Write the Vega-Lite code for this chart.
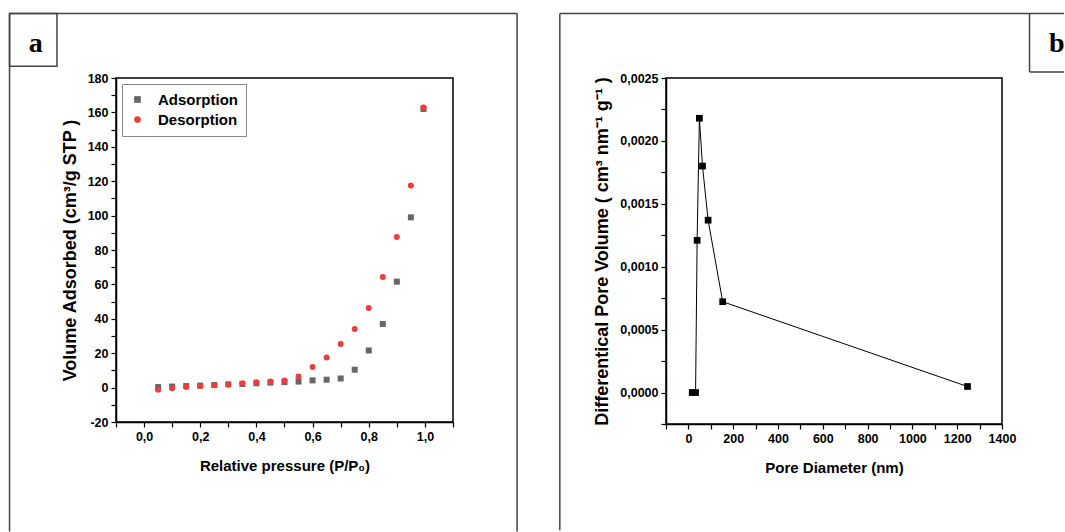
{
  "$schema": "https://vega.github.io/schema/vega-lite/v6.json",
  "padding": {"left": 8, "top": 11, "right": 0, "bottom": 0},
  "background": "white",
  "spacing": 39,
  "config": {
    "view": {"stroke": "#000", "strokeWidth": 1.5},
    "axis": {
      "grid": false, "domainColor": "#000", "domainWidth": 1.5,
      "tickColor": "#000", "tickWidth": 1.2, "tickSize": 5,
      "labelFont": "Liberation Sans", "labelFontWeight": "bold", "labelFontSize": 12.5, "labelColor": "#000",
      "labelPadding": 3, "labelOverlap": false, "labelFlush": false,
      "titleFont": "Liberation Sans", "titleFontWeight": "bold", "titleFontSize": 15, "titleColor": "#000"
    },
    "axisY": {"titleFontSize": 18, "titlePadding": 8},
    "axisX": {"titlePadding": 16}
  },
  "datasets": {
    "iso": [
      {"p": 0.05, "v": 0.3, "series": "Adsorption"},
      {"p": 0.10, "v": 0.6, "series": "Adsorption"},
      {"p": 0.15, "v": 0.9, "series": "Adsorption"},
      {"p": 0.20, "v": 1.2, "series": "Adsorption"},
      {"p": 0.25, "v": 1.5, "series": "Adsorption"},
      {"p": 0.30, "v": 1.9, "series": "Adsorption"},
      {"p": 0.35, "v": 2.1, "series": "Adsorption"},
      {"p": 0.40, "v": 2.5, "series": "Adsorption"},
      {"p": 0.45, "v": 2.9, "series": "Adsorption"},
      {"p": 0.50, "v": 3.2, "series": "Adsorption"},
      {"p": 0.55, "v": 3.5, "series": "Adsorption"},
      {"p": 0.60, "v": 4.2, "series": "Adsorption"},
      {"p": 0.65, "v": 4.6, "series": "Adsorption"},
      {"p": 0.70, "v": 5.3, "series": "Adsorption"},
      {"p": 0.75, "v": 10.4, "series": "Adsorption"},
      {"p": 0.80, "v": 21.6, "series": "Adsorption"},
      {"p": 0.85, "v": 37.0, "series": "Adsorption"},
      {"p": 0.90, "v": 61.6, "series": "Adsorption"},
      {"p": 0.95, "v": 99.0, "series": "Adsorption"},
      {"p": 0.995, "v": 162.0, "series": "Adsorption"},
      {"p": 0.05, "v": -1.2, "series": "Desorption"},
      {"p": 0.10, "v": -0.4, "series": "Desorption"},
      {"p": 0.15, "v": 0.4, "series": "Desorption"},
      {"p": 0.20, "v": 1.0, "series": "Desorption"},
      {"p": 0.25, "v": 1.4, "series": "Desorption"},
      {"p": 0.30, "v": 1.8, "series": "Desorption"},
      {"p": 0.35, "v": 2.5, "series": "Desorption"},
      {"p": 0.40, "v": 3.1, "series": "Desorption"},
      {"p": 0.45, "v": 3.5, "series": "Desorption"},
      {"p": 0.50, "v": 4.2, "series": "Desorption"},
      {"p": 0.55, "v": 6.5, "series": "Desorption"},
      {"p": 0.60, "v": 12.0, "series": "Desorption"},
      {"p": 0.65, "v": 17.5, "series": "Desorption"},
      {"p": 0.70, "v": 25.4, "series": "Desorption"},
      {"p": 0.75, "v": 34.0, "series": "Desorption"},
      {"p": 0.80, "v": 46.3, "series": "Desorption"},
      {"p": 0.85, "v": 64.3, "series": "Desorption"},
      {"p": 0.90, "v": 87.5, "series": "Desorption"},
      {"p": 0.95, "v": 117.5, "series": "Desorption"},
      {"p": 0.995, "v": 162.8, "series": "Desorption"}
    ],
    "psd": [
      {"d": 17, "dv": 0.0},
      {"d": 32, "dv": 0.0},
      {"d": 39, "dv": 0.00121},
      {"d": 49, "dv": 0.00218},
      {"d": 63, "dv": 0.0018},
      {"d": 88, "dv": 0.00137},
      {"d": 153, "dv": 0.000722},
      {"d": 1246, "dv": 0.000048}
    ],
    "one": [{}]
  },
  "hconcat": [
    {
      "width": 337,
      "height": 344,
      "layer": [
        {
          "data": {"name": "iso"},
          "mark": {"type": "point", "filled": true, "opacity": 1},
          "encoding": {
            "x": {
              "field": "p", "type": "quantitative",
              "scale": {"domain": [-0.1, 1.1], "nice": false, "zero": false},
              "axis": {
                "title": "Relative pressure (P/P₀)", "labelOverlap": false, "tickCount": 100,
                "values": [-0.1, 0, 0.1, 0.2, 0.3, 0.4, 0.5, 0.6, 0.7, 0.8, 0.9, 1.0, 1.1],
                "labelExpr": "abs(round(datum.value*10)) % 2 == 0 ? replace(format(datum.value, '.1f'), '.', ',') : ''"
              }
            },
            "y": {
              "field": "v", "type": "quantitative",
              "scale": {"domain": [-20, 180], "nice": false, "zero": false},
              "axis": {
                "title": "Volume Adsorbed (cm³/g STP )", "labelOverlap": false, "tickCount": 100,
                "values": [-20, -10, 0, 10, 20, 30, 40, 50, 60, 70, 80, 90, 100, 110, 120, 130, 140, 150, 160, 170, 180],
                "labelExpr": "datum.value % 20 == 0 ? toString(datum.value) : ''"
              }
            },
            "color": {
              "field": "series", "type": "nominal",
              "scale": {"domain": ["Adsorption", "Desorption"], "range": ["#666666", "#ee3b3b"]},
              "legend": {
                "title": null, "orient": "top-left", "offset": 6,
                "strokeColor": "#888", "fillColor": "white", "padding": 8,
                "labelFont": "Liberation Sans", "labelFontWeight": "bold", "labelFontSize": 15, "labelColor": "#000",
                "symbolSize": 45, "rowPadding": 4, "labelOffset": 13
              }
            },
            "shape": {
              "field": "series", "type": "nominal",
              "scale": {"domain": ["Adsorption", "Desorption"], "range": ["square", "circle"]},
              "legend": {
                "title": null, "orient": "top-left", "offset": 6,
                "strokeColor": "#888", "fillColor": "white", "padding": 8,
                "labelFont": "Liberation Sans", "labelFontWeight": "bold", "labelFontSize": 15, "labelColor": "#000",
                "symbolSize": 45, "rowPadding": 4, "labelOffset": 13
              }
            },
            "size": {"value": 36}
          }
        },
        {
          "data": {"name": "one"},
          "mark": {"type": "rule", "stroke": "#444", "strokeWidth": 1.5},
          "encoding": {
            "x": {"datum": -0.4791, "type": "quantitative"},
            "y": {"datum": 217.46, "type": "quantitative"},
            "y2": {"datum": -83.7}
          }
        },
        {
          "data": {"name": "one"},
          "mark": {"type": "rule", "stroke": "#444", "strokeWidth": 1.5},
          "encoding": {
            "x": {"datum": 1.3283, "type": "quantitative"},
            "y": {"datum": 217.46, "type": "quantitative"},
            "y2": {"datum": -83.7}
          }
        },
        {
          "data": {"name": "one"},
          "mark": {"type": "rule", "stroke": "#444", "strokeWidth": 1.5},
          "encoding": {
            "x": {"datum": -0.4791, "type": "quantitative"},
            "x2": {"datum": 1.3283},
            "y": {"datum": 217.46, "type": "quantitative"}
          }
        },
        {
          "data": {"name": "one"},
          "mark": {"type": "rect", "fill": "transparent", "stroke": "#444", "strokeWidth": 1.5},
          "encoding": {
            "x": {"datum": -0.4791, "type": "quantitative"},
            "x2": {"datum": -0.3102},
            "y": {"datum": 217.46, "type": "quantitative"},
            "y2": {"datum": 186.86}
          }
        },
        {
          "data": {"name": "one"},
          "mark": {"type": "text", "text": "a", "font": "Liberation Serif", "fontWeight": "bold", "fontSize": 28, "align": "center", "baseline": "alphabetic", "color": "#000"},
          "encoding": {
            "x": {"datum": -0.3856, "type": "quantitative"},
            "y": {"datum": 195.1, "type": "quantitative"}
          }
        }
      ]
    },
    {
      "width": 336,
      "height": 346,
      "layer": [
        {
          "data": {"name": "psd"},
          "mark": {"type": "line", "color": "#000", "strokeWidth": 1, "point": {"shape": "square", "size": 45, "filled": true, "color": "#000", "opacity": 1}},
          "encoding": {
            "x": {
              "field": "d", "type": "quantitative",
              "scale": {"domain": [-100, 1400], "nice": false, "zero": false},
              "axis": {
                "title": "Pore Diameter (nm)", "labelOverlap": false, "tickCount": 100,
                "values": [-100, 0, 100, 200, 300, 400, 500, 600, 700, 800, 900, 1000, 1100, 1200, 1300, 1400],
                "labelExpr": "datum.value % 200 == 0 ? toString(datum.value) : ''"
              }
            },
            "y": {
              "field": "dv", "type": "quantitative",
              "scale": {"domain": [-0.00025, 0.0025], "nice": false, "zero": false},
              "axis": {
                "title": "Differentical Pore Volume ( cm³ nm⁻¹ g⁻¹ )", "labelOverlap": false, "tickCount": 100,
                "values": [-0.00025, 0, 0.00025, 0.0005, 0.00075, 0.001, 0.00125, 0.0015, 0.00175, 0.002, 0.00225, 0.0025],
                "labelExpr": "abs(round(datum.value*4000)) % 2 == 0 ? replace(format(datum.value, '.4f'), '.', ',') : ''"
              }
            }
          }
        },
        {
          "data": {"name": "one"},
          "mark": {"type": "rule", "stroke": "#444", "strokeWidth": 1.5},
          "encoding": {
            "x": {"datum": -574, "type": "quantitative"},
            "y": {"datum": 0.0030135, "type": "quantitative"},
            "y2": {"datum": -0.001095}
          }
        },
        {
          "data": {"name": "one"},
          "mark": {"type": "rule", "stroke": "#444", "strokeWidth": 1.5},
          "encoding": {
            "x": {"datum": -574, "type": "quantitative"},
            "x2": {"datum": 1676.9},
            "y": {"datum": 0.0030135, "type": "quantitative"}
          }
        },
        {
          "data": {"name": "one"},
          "mark": {"type": "rule", "stroke": "#444", "strokeWidth": 1.5},
          "encoding": {
            "x": {"datum": 1522.9, "type": "quantitative"},
            "y": {"datum": 0.0030135, "type": "quantitative"},
            "y2": {"datum": 0.0025476}
          }
        },
        {
          "data": {"name": "one"},
          "mark": {"type": "rule", "stroke": "#444", "strokeWidth": 1.5},
          "encoding": {
            "x": {"datum": 1522.9, "type": "quantitative"},
            "x2": {"datum": 1676.9},
            "y": {"datum": 0.0025476, "type": "quantitative"}
          }
        },
        {
          "data": {"name": "one"},
          "mark": {"type": "text", "text": "b", "font": "Liberation Serif", "fontWeight": "bold", "fontSize": 28, "align": "center", "baseline": "alphabetic", "color": "#000"},
          "encoding": {
            "x": {"datum": 1644.4, "type": "quantitative"},
            "y": {"datum": 0.0027087, "type": "quantitative"}
          }
        }
      ]
    }
  ]
}
